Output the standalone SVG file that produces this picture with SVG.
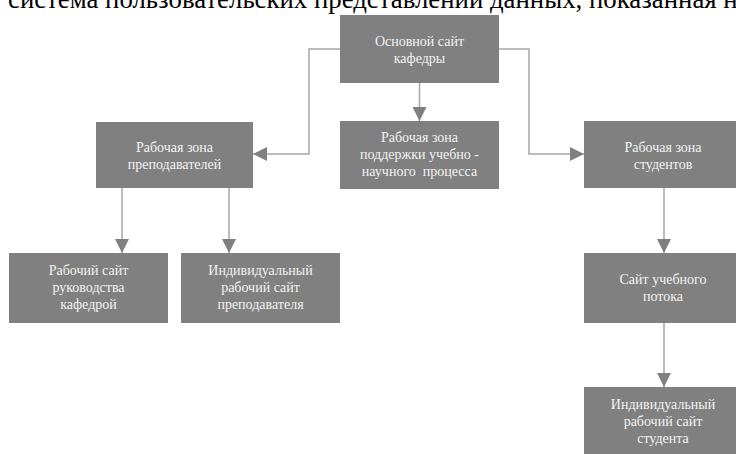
<svg xmlns="http://www.w3.org/2000/svg" width="736" height="454" viewBox="0 0 736 454">
<defs>
<style>
.box{fill:#808080;}
.t{font-family:"Liberation Serif","Times New Roman",serif;font-size:14px;fill:#f2f2f2;text-anchor:middle;}
.head{font-family:"Liberation Serif","Times New Roman",serif;font-size:26.8px;fill:#000;}
.c{fill:none;stroke:#a6a6a6;stroke-width:1.5;}
</style>
<marker id="arr" markerUnits="userSpaceOnUse" markerWidth="14" markerHeight="14" viewBox="0 0 12 12" refX="12" refY="6" orient="auto">
<path d="M0,0 L12,6 L0,12 Z" fill="#808080"/>
</marker>
</defs>
<rect width="736" height="454" fill="#ffffff"/>
<text class="head" x="8" y="7.5">система пользовательских представлений данных, показанная н</text>
<g id="connectors">
<path class="c" d="M419.5,83 V121" marker-end="url(#arr)"/>
<path class="c" d="M340,49 H309 V154 H253" marker-end="url(#arr)"/>
<path class="c" d="M499,49 H529 V154 H584" marker-end="url(#arr)"/>
<path class="c" d="M122,188 V253" marker-end="url(#arr)"/>
<path class="c" d="M229,188 V253" marker-end="url(#arr)"/>
<path class="c" d="M664,188 V253" marker-end="url(#arr)"/>
<path class="c" d="M664,323 V387" marker-end="url(#arr)"/>
</g>
<g id="main">
<rect class="box" x="340" y="15" width="159" height="68"/>
<text class="t" x="419.5" y="46">Основной сайт</text>
<text class="t" x="419.5" y="63">кафедры</text>
</g>
<g id="teachers">
<rect class="box" x="96" y="122" width="157" height="66"/>
<text class="t" x="174.5" y="152">Рабочая зона</text>
<text class="t" x="174.5" y="169">преподавателей</text>
</g>
<g id="support">
<rect class="box" x="340" y="121" width="159" height="68"/>
<text class="t" x="419.5" y="142">Рабочая зона</text>
<text class="t" x="419.5" y="159">поддержки учебно -</text>
<text class="t" x="419.5" y="176" xml:space="preserve">научного  процесса</text>
</g>
<g id="students">
<rect class="box" x="584" y="121" width="158" height="67"/>
<text class="t" x="663" y="152">Рабочая зона</text>
<text class="t" x="663" y="169">студентов</text>
</g>
<g id="management">
<rect class="box" x="9" y="253" width="159" height="70"/>
<text class="t" x="88.5" y="275">Рабочий сайт</text>
<text class="t" x="88.5" y="292">руководства</text>
<text class="t" x="88.5" y="309">кафедрой</text>
</g>
<g id="teacher-site">
<rect class="box" x="181" y="253" width="159" height="70"/>
<text class="t" x="260.5" y="275">Индивидуальный</text>
<text class="t" x="260.5" y="292">рабочий сайт</text>
<text class="t" x="260.5" y="309">преподавателя</text>
</g>
<g id="stream">
<rect class="box" x="584" y="253" width="158" height="70"/>
<text class="t" x="663" y="284">Сайт учебного</text>
<text class="t" x="663" y="301">потока</text>
</g>
<g id="student-site">
<rect class="box" x="584" y="387" width="158" height="70"/>
<text class="t" x="663" y="409">Индивидуальный</text>
<text class="t" x="663" y="426">рабочий сайт</text>
<text class="t" x="663" y="443">студента</text>
</g>
</svg>
